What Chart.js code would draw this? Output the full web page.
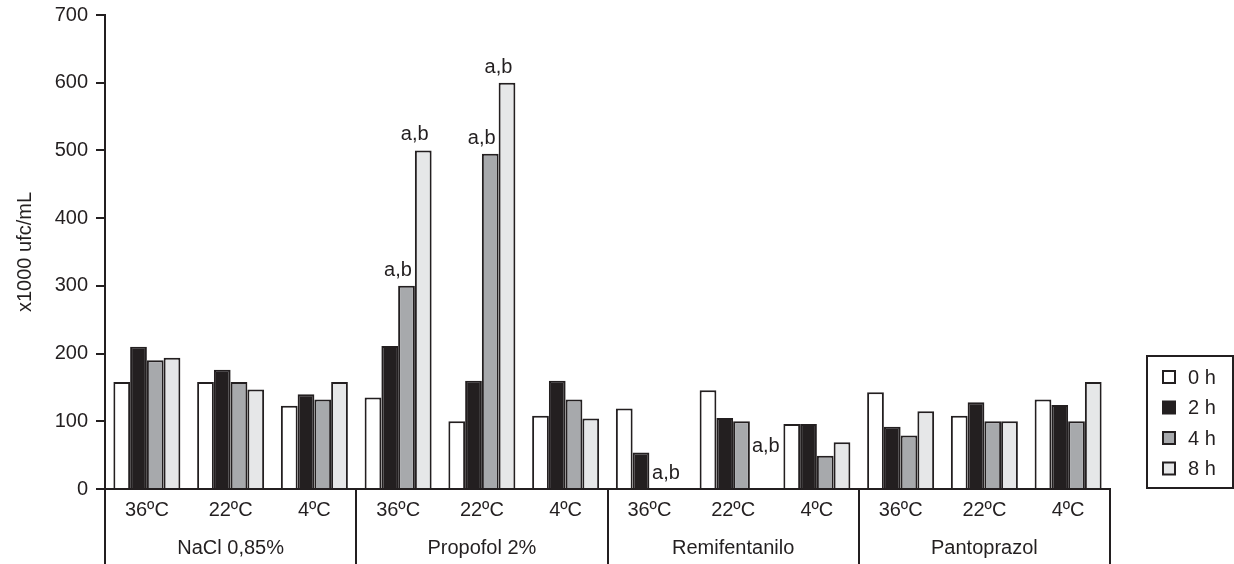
<!DOCTYPE html>
<html lang="es">
<head>
  <meta charset="UTF-8">
  <title>x1000 ufc/mL por fármaco y temperatura</title>
  <script src="https://cdn.jsdelivr.net/npm/chart.js"></script>
  <style>
    html, body { margin: 0; padding: 0; background: #ffffff; }
    #wrap { width: 1234px; height: 564px; position: relative; }
  </style>
</head>
<body>
  <div id="wrap"><canvas id="grafico"></canvas></div>

  <script>
    // datos
    const temperaturas = ['36ºC', '22ºC', '4ºC', '36ºC', '22ºC', '4ºC', '36ºC', '22ºC', '4ºC', '36ºC', '22ºC', '4ºC'];
    const farmacos = ['NaCl 0,85%', 'Propofol 2%', 'Remifentanilo', 'Pantoprazol'];
    const tiempos = ['0 h', '2 h', '4 h', '8 h'];

    const valores0h = [158, 158, 123, 135, 100, 108, 119, 146, 96, 143, 108, 132];
    const valores2h = [210, 176, 140, 211, 160, 160, 54, 105, 96, 92, 128, 124];
    const valores4h = [190, 158, 132, 300, 495, 132, 0, 100, 49, 79, 100, 100];
    const valores8h = [194, 147, 158, 500, 600, 104, 0, 0, 69, 115, 100, 158];

    const yTicks = [0, 100, 200, 300, 400, 500, 600, 700];

    // barras marcadas con "a,b": [índice de categoría, índice de serie]
    const marcas = [[3, 2], [3, 3], [4, 2], [4, 3], [6, 3], [7, 3]];

    const TINTA = '#231f20';
    const colores = ['#ffffff', TINTA, '#a7a9ac', '#e6e7e8'];
    const FUENTE = '"Liberation Sans", Arial, Helvetica, sans-serif';

    const series = [valores0h, valores2h, valores4h, valores8h];

    const extras = {
      id: 'extras',
      afterDraw(chart) {
        const ctx = chart.ctx;
        const area = chart.chartArea;
        const xs = chart.scales.x;
        const h = chart.height;
        ctx.save();
        ctx.strokeStyle = TINTA;
        ctx.fillStyle = TINTA;
        ctx.lineWidth = 2;

        // separadores bajo el eje x
        const porGrupo = temperaturas.length / farmacos.length;
        const bordes = [area.left];
        for (let g = 1; g < farmacos.length; g++) {
          const i = g * porGrupo;
          bordes.push((xs.getPixelForValue(i - 1) + xs.getPixelForValue(i)) / 2);
        }
        bordes.push(area.right);
        ctx.beginPath();
        bordes.forEach(b => {
          const x = Math.round(b);
          ctx.moveTo(x, area.bottom);
          ctx.lineTo(x, h);
        });
        ctx.stroke();

        // nombres de los fármacos
        ctx.font = '20px ' + FUENTE;
        ctx.textAlign = 'center';
        ctx.textBaseline = 'middle';
        farmacos.forEach((f, g) => {
          ctx.fillText(f, (bordes[g] + bordes[g + 1]) / 2, 548);
        });

        // marcas a,b
        marcas.forEach(([i, d]) => {
          const bar = chart.getDatasetMeta(d).data[i];
          const derecha = bar.x + bar.width / 2;
          let x = derecha - 3;
          let y = bar.y - 10;
          ctx.textAlign = 'right';
          ctx.textBaseline = 'alphabetic';
          if (i === 7 && d === 3) {
            ctx.textAlign = 'left';
            x = bar.x - bar.width / 2 + 2;
            y = area.bottom - 37;
          }
          ctx.fillText('a,b', x, y);
        });

        // leyenda
        const lx = 1147, ly = 356, lw = 86, lh = 132;
        ctx.strokeRect(lx, ly, lw, lh);
        ctx.textAlign = 'left';
        ctx.textBaseline = 'middle';
        tiempos.forEach((t, k) => {
          const cy = 377 + k * 30.5;
          ctx.fillStyle = colores[k];
          ctx.fillRect(1163, cy - 6, 12, 12);
          ctx.strokeRect(1163, cy - 6, 12, 12);
          ctx.fillStyle = TINTA;
          ctx.fillText(t, 1188, cy + 1);
        });
        ctx.restore();
      }
    };

    const ctx = document.getElementById('grafico').getContext('2d');
    new Chart(ctx, {
      type: 'bar',
      data: {
        labels: temperaturas,
        datasets: tiempos.map((t, k) => ({
          label: t,
          data: series[k],
          backgroundColor: colores[k],
          borderColor: TINTA,
          borderWidth: 2,
          categoryPercentage: 0.8,
          barPercentage: 1
        }))
      },
      options: {
        responsive: true,
        maintainAspectRatio: false,
        animation: false,
        layout: { padding: { top: 15, right: 124, bottom: 0, left: 0 } },
        plugins: {
          legend: { display: false },
          tooltip: { enabled: false }
        },
        scales: {
          x: {
            grid: { display: false, drawTicks: false },
            border: { display: true, color: TINTA, width: 2 },
            ticks: {
              autoSkip: false,
              maxRotation: 0,
              padding: 9,
              color: TINTA,
              font: { family: FUENTE, size: 20 }
            },
            afterFit: s => { s.height = 75; }
          },
          y: {
            min: 0,
            max: 700,
            afterBuildTicks: s => { s.ticks = yTicks.map(v => ({ value: v })); },
            grid: { drawOnChartArea: false, drawTicks: true, tickLength: 9, color: TINTA, lineWidth: 2 },
            border: { display: true, color: TINTA, width: 2 },
            ticks: {
              padding: 8,
              color: TINTA,
              font: { family: FUENTE, size: 20 }
            },
            title: {
              display: true,
              text: 'x1000 ufc/mL',
              color: TINTA,
              padding: { top: 13, bottom: 0 },
              font: { family: FUENTE, size: 20 }
            },
            afterFit: s => { s.width = 105; s.paddingTop = 0; s.paddingBottom = 0; }
          }
        }
      },
      plugins: [extras]
    });
  </script>
</body>
</html>
